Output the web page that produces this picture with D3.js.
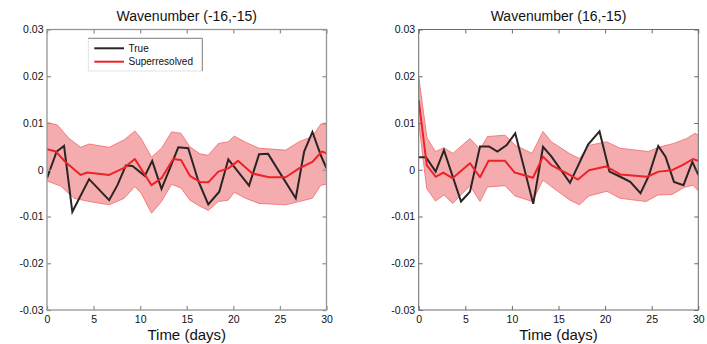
<!DOCTYPE html>
<html>
<head>
<meta charset="utf-8">
<script src="https://cdn.jsdelivr.net/npm/d3@7"></script>
<style>
html,body{margin:0;padding:0;background:#fff;}
svg{display:block;font-family:"Liberation Sans",Arial,Helvetica,sans-serif;}
</style>
</head>
<body>
<svg id="chart" width="707" height="344"></svg>
<script>
// ---------- data ----------
const xTicks = [0, 5, 10, 15, 20, 25, 30];
const yTicks = [-0.03, -0.02, -0.01, 0, 0.01, 0.02, 0.03];
const yTickLabels = ["-0.03", "-0.02", "-0.01", "0", "0.01", "0.02", "0.03"];
const titles = ["Wavenumber (-16,-15)", "Wavenumber (16,-15)"];
const legendLabels = ["True", "Superresolved"];

// Left panel (-16,-15)
const leftTrueT = [0, 1.04, 1.83, 2.72, 4.52, 6.67, 7.56, 8.46, 9.17, 10.5, 11.29, 12.29, 13.19, 14.09, 15.16, 16.24, 17.31, 18.49, 19.46, 21.69, 22.76, 23.73, 26.7, 27.6, 28.49, 29.39, 30];
const leftTrueV = [-0.0018, 0.0039, 0.0051, -0.0090, -0.0020, -0.0065, -0.0033, 0.0009, 0.0008, -0.0013, 0.0019, -0.0041, 0.0003, 0.0048, 0.0046, -0.0024, -0.0074, -0.0047, 0.0022, -0.0034, 0.0033, 0.0034, -0.0061, 0.0039, 0.0081, 0.0031, 0.0003];
const leftMeanT = [0, 0.94, 2.01, 3.62, 4.33, 6.67, 8.28, 9.43, 11.22, 12.29, 13.55, 14.38, 15.34, 16.42, 17.31, 18.39, 19.46, 20.5, 22.04, 23.84, 25.62, 27.06, 28.49, 29.5, 30];
const leftMeanV = [0.0044, 0.0039, 0.0016, -0.0011, -0.0006, -0.0011, 0.0004, 0.0023, -0.0033, -0.0018, 0.0023, 0.0021, -0.0013, -0.0026, -0.0027, -0.0004, 0.0003, 0.0019, -0.0008, -0.0016, -0.0016, 0.0003, 0.0017, 0.0039, 0.0035];
const leftUpperT = [0, 1.1, 2.37, 3.62, 4.52, 6.67, 8.28, 9.43, 10.1, 11.22, 12.29, 13.37, 14.38, 15.34, 16.42, 17.31, 18.39, 19.46, 20.1, 21.3, 22.76, 25.62, 27.06, 28.49, 29.39, 30];
const leftUpperV = [0.0101, 0.0096, 0.0067, 0.0048, 0.0055, 0.0048, 0.0064, 0.0083, 0.0067, 0.0027, 0.0046, 0.0081, 0.0078, 0.0049, 0.0034, 0.0031, 0.0056, 0.0060, 0.0072, 0.0059, 0.0046, 0.0042, 0.0060, 0.0071, 0.0098, 0.0098];
const leftLowerT = [0, 1.47, 2.9, 4.52, 6.67, 8.28, 9.43, 10.1, 11.22, 12.29, 13.37, 14.38, 15.34, 16.42, 17.31, 18.39, 19.46, 20.1, 21.3, 22.76, 25.62, 27.06, 28.49, 29.39, 30];
const leftLowerV = [-0.0024, -0.0035, -0.0061, -0.0068, -0.0075, -0.0061, -0.0036, -0.0050, -0.0093, -0.0068, -0.0031, -0.0039, -0.0065, -0.0078, -0.0087, -0.0068, -0.0065, -0.0048, -0.0061, -0.0072, -0.0075, -0.0068, -0.0061, -0.0033, -0.0031];

// Right panel (16,-15)
const rightTrueT = [0, 0.78, 1.82, 2.71, 4.54, 5.5, 6.58, 7.54, 8.45, 9.44, 10.36, 12.29, 13.34, 14.25, 16.23, 18.17, 19.4, 20.47, 21.63, 22.7, 23.8, 24.68, 25.7, 26.48, 27.39, 28.41, 29.36, 30];
const rightTrueV = [0.0027, 0.0027, -0.0004, 0.0042, -0.0068, -0.0047, 0.0050, 0.0050, 0.0039, 0.0053, 0.0078, -0.0073, 0.0049, 0.0028, -0.0028, 0.0054, 0.0082, -0.0004, -0.0015, -0.0026, -0.0050, -0.0013, 0.0051, 0.0028, -0.0026, -0.0033, 0.0017, -0.0011];
const rightMeanT = [0, 0.86, 1.82, 2.64, 3.63, 5.5, 6.58, 7.49, 9.26, 10.3, 12.26, 13.34, 14.23, 16.2, 17.09, 18.27, 20.1, 21.63, 24.5, 25.75, 27.18, 28.3, 29.43, 30];
const rightMeanV = [0.0149, 0.0010, -0.0015, -0.0006, -0.0018, 0.0014, -0.0016, 0.0019, 0.0019, -0.0006, -0.0017, 0.0028, 0.0010, -0.0011, -0.0021, -0.0001, 0.0007, -0.0010, -0.0015, -0.0004, -0.0001, 0.0010, 0.0023, 0.0019];
const rightUpperT = [0, 0.89, 1.8, 2.71, 3.66, 5.5, 6.58, 7.38, 9.26, 10.33, 12.16, 13.34, 14.23, 16.23, 17.25, 18.27, 20.15, 21.6, 24.64, 25.89, 27.32, 28.76, 29.65, 30];
const rightUpperV = [0.0199, 0.0068, 0.0039, 0.0047, 0.0035, 0.0067, 0.0044, 0.0071, 0.0074, 0.0053, 0.0035, 0.0082, 0.0060, 0.0034, 0.0024, 0.0052, 0.0060, 0.0046, 0.0039, 0.0049, 0.0056, 0.0067, 0.0078, 0.0074];
const rightLowerT = [0, 0.86, 1.8, 2.71, 3.66, 5.5, 6.58, 7.38, 9.26, 10.33, 12.2, 13.34, 14.23, 16.23, 17.25, 18.27, 20.2, 21.6, 24.4, 25.67, 27.18, 28.45, 29.43, 30];
const rightLowerV = [0.0100, -0.0040, -0.0067, -0.0054, -0.0072, -0.0034, -0.0068, -0.0037, -0.0034, -0.0056, -0.0068, -0.0022, -0.0036, -0.0065, -0.0075, -0.0056, -0.0046, -0.0061, -0.0068, -0.0054, -0.0053, -0.0038, -0.0033, -0.0045];

// ---------- drawing ----------
const svg = d3.select("#chart");
const zip = (t, v) => t.map((d, i) => [d, v[i]]);

const panels = [
  {title: titles[0], x0: 47, x1: 326.5, frame: "#959595", fw: 1.3,
   trueD: zip(leftTrueT, leftTrueV), mean: zip(leftMeanT, leftMeanV),
   upper: zip(leftUpperT, leftUpperV), lower: zip(leftLowerT, leftLowerV), legend: true},
  {title: titles[1], x0: 418.7, x1: 698.3, frame: "#6a6a6a", fw: 1,
   trueD: zip(rightTrueT, rightTrueV), mean: zip(rightMeanT, rightMeanV),
   upper: zip(rightUpperT, rightUpperV), lower: zip(rightLowerT, rightLowerV), legend: false}
];
const yTop = 29.5, yBot = 310;

panels.forEach((p, pi) => {
  const x = d3.scaleLinear().domain([0, 30]).range([p.x0, p.x1]);
  const y = d3.scaleLinear().domain([-0.03, 0.03]).range([yBot, yTop]);
  const g = svg.append("g");
  const clipId = "clip" + pi;
  svg.append("clipPath").attr("id", clipId).append("rect")
    .attr("x", p.x0).attr("y", yTop).attr("width", p.x1 - p.x0).attr("height", yBot - yTop);

  const line = d3.line().x(d => x(d[0])).y(d => y(d[1]));
  const plot = g.append("g").attr("clip-path", `url(#${clipId})`);

  // band polygon
  const poly = p.upper.concat(p.lower.slice().reverse());
  plot.append("path").attr("d", line(poly) + "Z")
    .attr("fill", "#f5acaf").attr("stroke", "none");
  plot.append("path").attr("d", line(p.upper)).attr("fill", "none")
    .attr("stroke", "#f06a6d").attr("stroke-width", 0.8);
  plot.append("path").attr("d", line(p.lower)).attr("fill", "none")
    .attr("stroke", "#f06a6d").attr("stroke-width", 0.8);

  // true line
  plot.append("path").attr("d", line(p.trueD)).attr("fill", "none")
    .attr("stroke", "#2b2424").attr("stroke-width", 2).attr("stroke-linejoin", "miter");
  // mean line
  plot.append("path").attr("d", line(p.mean)).attr("fill", "none")
    .attr("stroke", "#ec2227").attr("stroke-width", 2).attr("stroke-linejoin", "round");

  // axes
  const axStyle = sel => {
    sel.select(".domain").remove();
    sel.selectAll(".tick line").attr("stroke", p.frame).attr("stroke-width", p.fw);
    sel.selectAll(".tick text").attr("fill", "#111").style("font-size", "10.5px");
  };
  g.append("g").attr("transform", `translate(0,${yBot})`)
    .call(d3.axisBottom(x).tickValues(xTicks).tickSize(-4).tickPadding(5.5).tickFormat(d3.format("d")))
    .call(axStyle);
  g.append("g").attr("transform", `translate(0,${yTop})`)
    .call(d3.axisTop(x).tickValues(xTicks).tickSize(-4).tickFormat(""))
    .call(axStyle);
  g.append("g").attr("transform", `translate(${p.x0},0)`)
    .call(d3.axisLeft(y).tickValues(yTicks).tickSize(-4).tickPadding(3.5)
      .tickFormat((d, i) => yTickLabels[i]))
    .call(axStyle);
  g.append("g").attr("transform", `translate(${p.x1},0)`)
    .call(d3.axisRight(y).tickValues(yTicks).tickSize(-4).tickFormat(""))
    .call(axStyle);

  g.append("rect").attr("x", p.x0).attr("y", yTop)
    .attr("width", p.x1 - p.x0).attr("height", yBot - yTop)
    .attr("fill", "none").attr("stroke", p.frame).attr("stroke-width", p.fw);

  // title
  g.append("text").attr("x", (p.x0 + p.x1) / 2).attr("y", 21)
    .attr("text-anchor", "middle").attr("fill", "#111")
    .style("font-size", "14px").text(p.title);
  // x label
  g.append("text").attr("x", (p.x0 + p.x1) / 2).attr("y", 340)
    .attr("text-anchor", "middle").attr("fill", "#111")
    .style("font-size", "15px").text("Time (days)");

  if (p.legend) {
    const lg = g.append("g");
    const bx0 = 88.3, by0 = 38.3, bx1 = 202.3, by1 = 71;
    lg.append("rect").attr("x", bx0).attr("y", by0).attr("width", bx1 - bx0).attr("height", by1 - by0)
      .attr("fill", "#fff").attr("stroke", "#dcdcdc").attr("stroke-width", 0.8);
    lg.append("line").attr("x1", bx0).attr("x2", bx1).attr("y1", by0).attr("y2", by0)
      .attr("stroke", "#777").attr("stroke-width", 0.9);
    lg.append("line").attr("x1", bx1).attr("x2", bx1).attr("y1", by0).attr("y2", by1)
      .attr("stroke", "#777").attr("stroke-width", 0.9);
    const colors = ["#2b2424", "#ec2227"];
    legendLabels.forEach((lab, i) => {
      const yy = 48.3 + i * 13.4;
      lg.append("line").attr("x1", 94.3).attr("x2", 124).attr("y1", yy).attr("y2", yy)
        .attr("stroke", colors[i]).attr("stroke-width", 2);
      lg.append("text").attr("x", 128.5).attr("y", yy + 3.6).attr("fill", "#111")
        .style("font-size", "10px").text(lab);
    });
  }
});
</script>
</body>
</html>
